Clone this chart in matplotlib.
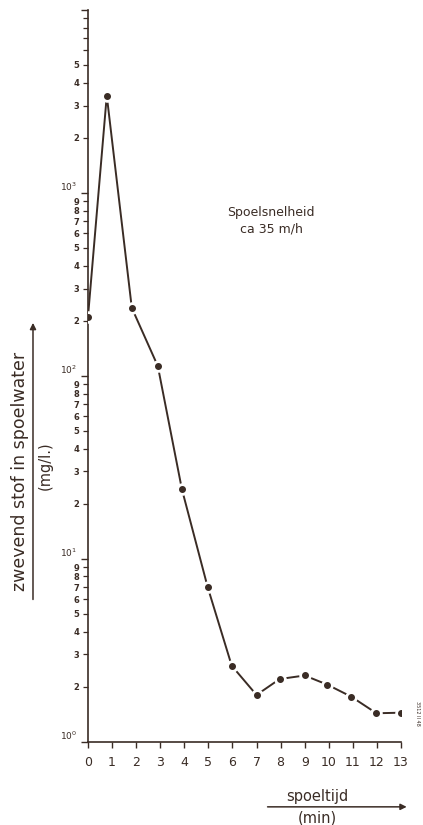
import numpy as np
import matplotlib
matplotlib.use('Agg')
import matplotlib.pyplot as plt
from matplotlib.ticker import FixedLocator, FixedFormatter

# DATA
spoeltijd = [0, 0.78, 1.82, 2.9, 3.9, 4.97, 5.97, 7.0, 7.96, 9.0, 9.94, 10.94, 11.98, 13.0]
zwevend_stof = [210, 3400, 235, 113, 24, 7.0, 2.6, 1.8, 2.2, 2.3, 2.05, 1.76, 1.43, 1.44]

x_ticks = list(range(0, 14))
y_major = [1, 10, 100, 1000, 10000]
y_major_labels = ['$10^0$', '$10^1$', '$10^2$', '$10^3$', '']
y_minor = [m * 10 ** d for d in range(4) for m in range(2, 10)]
y_minor_labels = [str(m) if (d < 3 or m <= 5) else ''
                  for d in range(4) for m in range(2, 10)]

INK = '#3a2c25'

fig = plt.figure(figsize=(4.23, 8.25), dpi=100)
fig.patch.set_facecolor('white')
ax = fig.add_axes([0.208, 0.101, 0.740, 0.887])

# CURVE (line with gaps around the dots)
ax.plot(spoeltijd, zwevend_stof, color=INK, lw=1.4, zorder=2)
ax.plot(spoeltijd, zwevend_stof, 'o', color='white', ms=8, zorder=3)
ax.plot(spoeltijd, zwevend_stof, 'o', color=INK, ms=4, zorder=4)

ax.set_yscale('log')
ax.set_xlim(0, 13)
ax.set_ylim(1, 10000)

for s in ['top', 'right']:
    ax.spines[s].set_visible(False)
for s in ['left', 'bottom']:
    ax.spines[s].set_color(INK)
    ax.spines[s].set_linewidth(1.2)

ax.set_xticks(x_ticks)
ax.set_xticklabels([str(v) for v in x_ticks], fontsize=9, color=INK)
ax.tick_params(axis='x', direction='out', length=4, width=1, color=INK, pad=6)

ax.yaxis.set_major_locator(FixedLocator(y_major))
ax.yaxis.set_major_formatter(FixedFormatter(y_major_labels))
ax.yaxis.set_minor_locator(FixedLocator(y_minor))
ax.yaxis.set_minor_formatter(FixedFormatter(y_minor_labels))
ax.tick_params(axis='y', which='major', direction='out', length=5, width=1,
               color=INK, labelsize=6.5, labelcolor=INK, pad=3)
ax.tick_params(axis='y', which='minor', direction='out', length=3.5, width=0.9,
               color=INK, labelsize=6, labelcolor=INK, pad=3)
for lab in ax.yaxis.get_majorticklabels():
    lab.set_verticalalignment('bottom')
for lab in ax.yaxis.get_minorticklabels():
    lab.set_fontweight('bold')

# ANNOTATION
ax.text(0.585, 0.712, 'Spoelsnelheid\nca 35 m/h', transform=ax.transAxes,
        ha='center', va='center', fontsize=9, color=INK, linespacing=1.3)

# Y LABEL with arrow
fig.text(0.047, 0.428, 'zwevend stof in spoelwater', rotation=90,
         ha='center', va='center', fontsize=12.5, color=INK)
fig.text(0.107, 0.435, '(mg/l.)', rotation=90,
         ha='center', va='center', fontsize=10.5, color=INK)
ax.annotate('', xy=(0.078, 0.612), xytext=(0.078, 0.270),
            xycoords='figure fraction', textcoords='figure fraction',
            arrowprops=dict(arrowstyle='-|>', color=INK, lw=1.1,
                            mutation_scale=9))

# X LABEL with arrow
fig.text(0.749, 0.034, 'spoeltijd', ha='center', va='center',
         fontsize=10.5, color=INK)
fig.text(0.749, 0.008, '(min)', ha='center', va='center',
         fontsize=10.5, color=INK)
ax.annotate('', xy=(0.968, 0.022), xytext=(0.626, 0.022),
            xycoords='figure fraction', textcoords='figure fraction',
            arrowprops=dict(arrowstyle='-|>', color=INK, lw=1.1,
                            mutation_scale=9))

fig.text(0.988, 0.135, '3512 II 48', rotation=270, ha='center', va='center',
         fontsize=3.5, color=INK)

fig.savefig('out.png', dpi=100, facecolor=fig.get_facecolor())
